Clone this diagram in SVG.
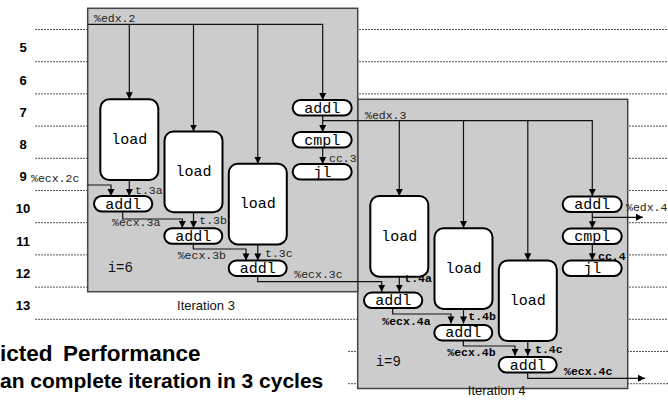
<svg xmlns="http://www.w3.org/2000/svg" width="668" height="409" viewBox="0 0 668 409">
  <style>
    .grid { stroke: #555; stroke-width: 1; stroke-dasharray: 2 1; fill: none; }
    .iter { fill: #cccccc; stroke: #444; stroke-width: 1.5; }
    .unit { fill: #fff; stroke: #000; stroke-width: 2; }
    .op { font-family: "Liberation Mono", "DejaVu Sans Mono", monospace; font-size: 15px; fill: #000; text-anchor: middle; }
    .lbl { font-family: "Liberation Mono", "DejaVu Sans Mono", monospace; font-size: 11.5px; fill: #222; }
    .lblb { font-family: "Liberation Mono", "DejaVu Sans Mono", monospace; font-size: 11.5px; fill: #000; font-weight: bold; }
    .idx { font-family: "Liberation Mono", "DejaVu Sans Mono", monospace; font-size: 14px; fill: #111; }
    .cyc { font-family: "Liberation Sans", Arial, sans-serif; font-size: 13px; font-weight: bold; fill: #000; text-anchor: middle; }
    .cap { font-family: "Liberation Sans", Arial, sans-serif; font-size: 13px; fill: #111; text-anchor: middle; }
    .head { font-family: "Liberation Sans", Arial, sans-serif; font-weight: bold; fill: #000; }
    .wire { fill: none; stroke: #111; stroke-width: 1.2; }
  </style>
  <defs>
    <marker id="arrow" markerUnits="userSpaceOnUse" markerWidth="8" markerHeight="8" refX="7" refY="4" orient="auto">
      <path d="M0,0.5 L7,4 L0,7.5 Z" fill="#000"/>
    </marker>
  </defs>

  <!-- cycle grid -->
  <g id="grid">
    <path class="grid" d="M35,29.5H668M35,61.7H668M35,93.9H668M35,126.1H668M35,158.3H668M35,190.5H668M35,222.7H668M35,254.9H668M35,287.1H668M35,319.3H668M348,351.5H668M348,383.7H668"/>
  </g>

  <!-- cycle numbers -->
  <g id="cycles">
    <text class="cyc" x="23" y="52.4">5</text>
    <text class="cyc" x="23" y="84.6">6</text>
    <text class="cyc" x="23" y="116.8">7</text>
    <text class="cyc" x="23" y="149">8</text>
    <text class="cyc" x="23" y="181.2">9</text>
    <text class="cyc" x="23" y="213.4">10</text>
    <text class="cyc" x="23" y="245.6">11</text>
    <text class="cyc" x="23" y="277.8">12</text>
    <text class="cyc" x="23" y="310">13</text>
  </g>

  <!-- iteration frames -->
  <g id="iteration4">
    <rect class="iter" x="357.7" y="99.3" width="270" height="289.2"/>
    <text class="idx" x="375.7" y="365.5">i=9</text>
    <text class="cap" x="496.7" y="394.5">Iteration 4</text>
  </g>
  <g id="iteration3">
    <rect class="iter" x="87.7" y="8.3" width="270" height="283.4"/>
    <text class="idx" x="107.7" y="271.5">i=6</text>
    <text class="cap" x="206" y="309.5">Iteration 3</text>
  </g>

  <!-- connectors -->
  <g id="connectors">
    <!-- iteration 3 -->
    <path class="wire" d="M87.7,24.3H322.7V100" marker-end="url(#arrow)"/>
    <path class="wire" d="M129.3,24.3V99.3" marker-end="url(#arrow)"/>
    <path class="wire" d="M193.5,24.3V131.5" marker-end="url(#arrow)"/>
    <path class="wire" d="M257.8,24.3V163.7" marker-end="url(#arrow)"/>
    <path class="wire" d="M322.7,115.5V132" marker-end="url(#arrow)"/>
    <path class="wire" d="M322.7,147V164" marker-end="url(#arrow)"/>
    <path class="wire" d="M87.7,185H111V196" marker-end="url(#arrow)"/>
    <path class="wire" d="M129.3,180V196" marker-end="url(#arrow)"/>
    <path class="wire" d="M122.7,211.5V219H182.3V228" marker-end="url(#arrow)"/>
    <path class="wire" d="M193.5,212V228" marker-end="url(#arrow)"/>
    <path class="wire" d="M193.3,244V249H246V260.4" marker-end="url(#arrow)"/>
    <path class="wire" d="M257.8,244.3V260.4" marker-end="url(#arrow)"/>
    <path class="wire" d="M257.7,276V281.7H381.7V291.7" marker-end="url(#arrow)"/>
    <!-- iteration 4 -->
    <path class="wire" d="M322.7,120.7H592.3V196" marker-end="url(#arrow)"/>
    <path class="wire" d="M399.3,120.7V196" marker-end="url(#arrow)"/>
    <path class="wire" d="M463.5,120.7V228.1" marker-end="url(#arrow)"/>
    <path class="wire" d="M527.8,120.7V260.3" marker-end="url(#arrow)"/>
    <path class="wire" d="M592.3,211.7V228.3" marker-end="url(#arrow)"/>
    <path class="wire" d="M592.3,217.3H643" marker-end="url(#arrow)"/>
    <path class="wire" d="M592.3,243.6V260.3" marker-end="url(#arrow)"/>
    <path class="wire" d="M399.3,276.6V291.7" marker-end="url(#arrow)"/>
    <path class="wire" d="M392.7,308.3V314H451V323.4" marker-end="url(#arrow)"/>
    <path class="wire" d="M463.5,308.6V323.4" marker-end="url(#arrow)"/>
    <path class="wire" d="M463.3,339V346H515V355.8" marker-end="url(#arrow)"/>
    <path class="wire" d="M527.8,340.9V355.8" marker-end="url(#arrow)"/>
    <path class="wire" d="M527.7,371.7V378.3H645" marker-end="url(#arrow)"/>
  </g>

  <!-- iteration 3 operations -->
  <g id="load3a"><rect class="unit" x="100.3" y="99.3" width="58" height="80.7" rx="9"/><text class="op" x="129.3" y="144">load</text></g>
  <g id="load3b"><rect class="unit" x="164.5" y="131.5" width="58" height="80.7" rx="9"/><text class="op" x="193.5" y="176">load</text></g>
  <g id="load3c"><rect class="unit" x="228.8" y="163.7" width="58" height="80.7" rx="9"/><text class="op" x="257.8" y="208">load</text></g>
  <g id="addl3"><rect class="unit" x="292.7" y="100" width="59" height="15.5" rx="7.75"/><text class="op" x="322.2" y="112.5">addl</text></g>
  <g id="cmpl3"><rect class="unit" x="292.7" y="132" width="59" height="15.5" rx="7.75"/><text class="op" x="322.2" y="144.5">cmpl</text></g>
  <g id="jl3"><rect class="unit" x="292.7" y="164" width="59" height="15.5" rx="7.75"/><text class="op" x="322.2" y="176.5">jl</text></g>
  <g id="addl3a"><rect class="unit" x="94" y="196" width="58.3" height="15.5" rx="7.75"/><text class="op" x="123.2" y="208.5">addl</text></g>
  <g id="addl3b"><rect class="unit" x="164.3" y="228.3" width="58" height="15.5" rx="7.75"/><text class="op" x="193.3" y="240.8">addl</text></g>
  <g id="addl3c"><rect class="unit" x="228.7" y="260.4" width="58" height="15.5" rx="7.75"/><text class="op" x="257.7" y="272.9">addl</text></g>

  <!-- iteration 4 operations -->
  <g id="load4a"><rect class="unit" x="370.3" y="196" width="58" height="80.7" rx="9"/><text class="op" x="399.3" y="240.7">load</text></g>
  <g id="load4b"><rect class="unit" x="434.5" y="228.2" width="58" height="80.7" rx="9"/><text class="op" x="463.5" y="272.9">load</text></g>
  <g id="load4c"><rect class="unit" x="498.8" y="260.4" width="58" height="80.7" rx="9"/><text class="op" x="527.8" y="305.1">load</text></g>
  <g id="addl4"><rect class="unit" x="562.7" y="196.6" width="59" height="15.5" rx="7.75"/><text class="op" x="592.2" y="209.1">addl</text></g>
  <g id="cmpl4"><rect class="unit" x="562.7" y="228.6" width="59" height="15.5" rx="7.75"/><text class="op" x="592.2" y="241.1">cmpl</text></g>
  <g id="jl4"><rect class="unit" x="562.7" y="260.6" width="59" height="15.5" rx="7.75"/><text class="op" x="592.2" y="273.1">jl</text></g>
  <g id="addl4a"><rect class="unit" x="364" y="292.6" width="58.3" height="15.5" rx="7.75"/><text class="op" x="393.2" y="305.1">addl</text></g>
  <g id="addl4b"><rect class="unit" x="434.3" y="324.9" width="58" height="15.5" rx="7.75"/><text class="op" x="463.3" y="337.4">addl</text></g>
  <g id="addl4c"><rect class="unit" x="498.7" y="357" width="58" height="15.5" rx="7.75"/><text class="op" x="527.7" y="369.5">addl</text></g>

  <!-- connector labels, drawn above the units -->
  <g id="labels">
    <text class="lbl" x="94" y="21.5">%edx.2</text>
    <text class="lbl" x="31" y="181.5">%ecx.2c</text>
    <text class="lbl" x="135" y="193.5">t.3a</text>
    <text class="lbl" x="112" y="226">%ecx.3a</text>
    <text class="lbl" x="199.3" y="224">t.3b</text>
    <text class="lbl" x="177.7" y="258.5">%ecx.3b</text>
    <text class="lbl" x="265" y="257">t.3c</text>
    <text class="lbl" x="294.3" y="278">%ecx.3c</text>
    <text class="lbl" x="329" y="162">cc.3</text>
    <text class="lbl" x="365" y="118.5">%edx.3</text>
    <text class="lbl" x="626" y="210.5" font-size="11">%edx.4</text>
    <text class="lblb" x="598" y="260">cc.4</text>
    <text class="lblb" x="404.3" y="281.5">t.4a</text>
    <text class="lblb" x="382.3" y="324.5">%ecx.4a</text>
    <text class="lblb" x="468.3" y="320">t.4b</text>
    <text class="lblb" x="447.3" y="356">%ecx.4b</text>
    <text class="lblb" x="535" y="353">t.4c</text>
    <text class="lblb" x="564" y="374.5">%ecx.4c</text>
  </g>

  <!-- slide text -->
  <g id="slide-text">
    <rect x="0" y="336" width="348" height="73" fill="#fff"/>
    <text class="head" y="361" font-size="22.5"><tspan x="0">icted</tspan><tspan x="63">Performance</tspan></text>
    <text class="head" x="0" y="388" font-size="21">an complete iteration in 3 cycles</text>
  </g>
</svg>
